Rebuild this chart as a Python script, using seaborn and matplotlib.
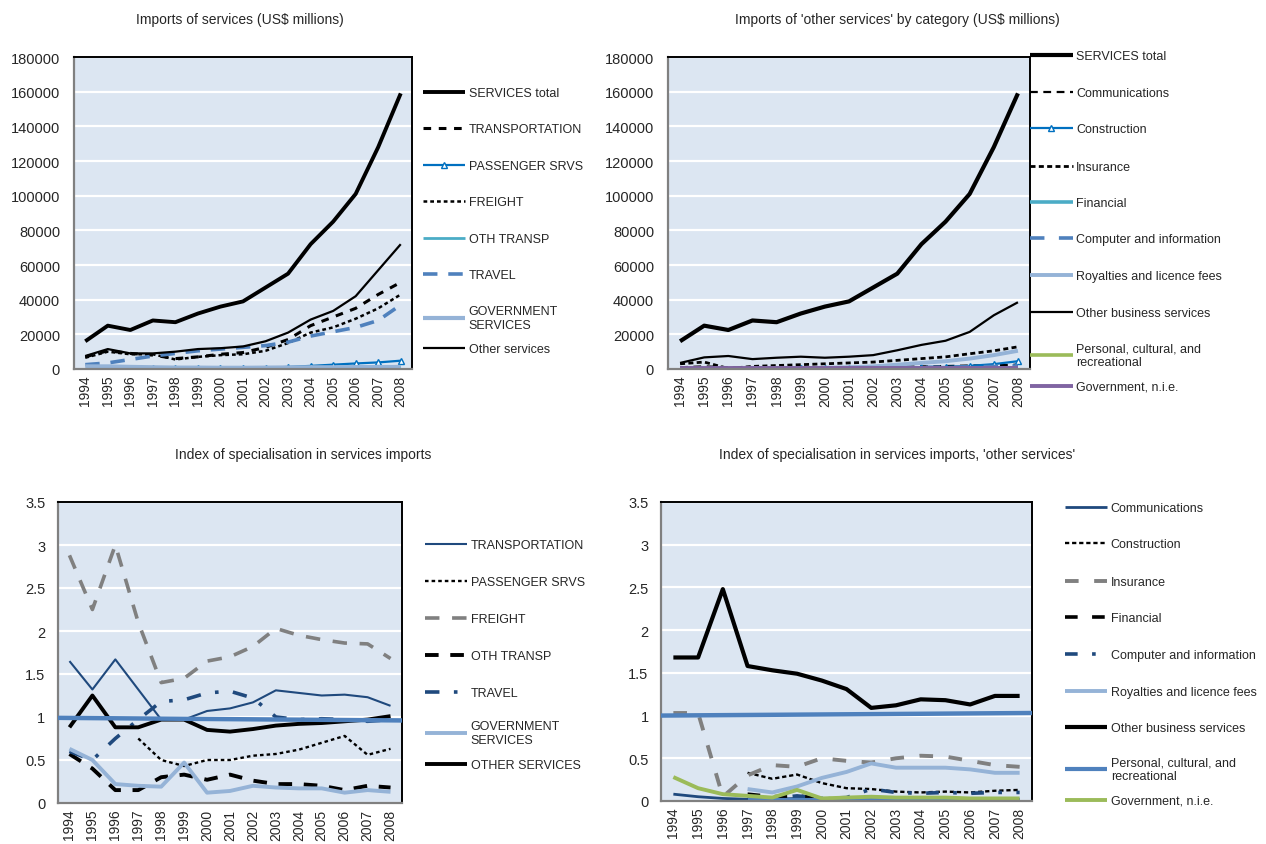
import numpy as np
import pandas as pd
import matplotlib
matplotlib.use("Agg")
import matplotlib.pyplot as plt
import matplotlib.transforms as mtransforms
import seaborn as sns

nan = np.nan
years = list(range(1994, 2009))

# ---------- Top-left: Imports of services (US$ millions) ----------
tl_services_total = [16000, 25000, 22500, 28000, 27000, 32000, 36000, 39000, 47000, 55000, 72000, 85000, 101000, 128000, 159000]
tl_transportation = [7000, 10500, 9000, 8000, 6000, 7000, 8500, 9500, 12500, 17000, 25000, 30000, 35000, 43000, 50000]
tl_passenger = [nan, nan, nan, 300, 300, 400, 500, 600, 700, 1200, 1800, 2500, 3200, 3800, 4800]
tl_freight = [6500, 10000, 8500, 8500, 5500, 7000, 8000, 8500, 10500, 15000, 21000, 24000, 29000, 35000, 43000]
tl_oth_transp = [nan, nan, nan, 600, 600, 600, 600, 600, 600, 700, 800, 900, 1000, 1100, 1200]
tl_travel = [2500, 3500, 5500, 7500, 9000, 10500, 11500, 12500, 13500, 15500, 19000, 21500, 24000, 28000, 37000]
tl_government = [1500, 1500, 1200, 1000, 800, 800, 700, 700, 800, 900, 1000, 1000, 1100, 1100, 1200]
tl_other = [7500, 11500, 9000, 9000, 10000, 11500, 12000, 13000, 16000, 21000, 28500, 33500, 42000, 57000, 72000]

# ---------- Top-right: Imports of 'other services' by category ----------
tr_services_total = tl_services_total
tr_communications = [1000, 1500, 1000, 800, 800, 900, 1000, 1000, 1100, 1300, 1500, 1700, 2000, 2200, 2500]
tr_construction = [nan, nan, nan, 200, 200, 300, 300, 400, 500, 700, 900, 1200, 1800, 2800, 4500]
tr_insurance = [3000, 4000, 300, 1500, 2000, 2500, 3000, 3500, 4000, 5000, 6000, 7000, 8800, 10500, 12800]
tr_financial = [nan, nan, nan, 300, 300, 300, 300, 300, 400, 400, 400, 500, 500, 600, 700]
tr_computer = [nan, nan, nan, 300, 400, 500, 600, 700, 800, 900, 1000, 1100, 1200, 1500, 1800]
tr_royalties = [nan, nan, nan, 300, 400, 500, 700, 1000, 1500, 2500, 3500, 4500, 6000, 8000, 10500]
tr_other_business = [3500, 6700, 7500, 5700, 6500, 7100, 6500, 7100, 8000, 10800, 13900, 16300, 21400, 31000, 38500]
tr_personal = [200, 200, 200, 200, 200, 200, 200, 200, 200, 200, 250, 250, 300, 300, 350]
tr_government = [300, 300, 300, 300, 300, 300, 300, 300, 300, 300, 300, 300, 300, 300, 300]

# ---------- Bottom-left: Index of specialisation in services imports ----------
bl_transportation = [1.65, 1.32, 1.67, 1.32, 0.97, 0.97, 1.07, 1.10, 1.17, 1.31, 1.28, 1.25, 1.26, 1.23, 1.13]
bl_passenger = [nan, nan, nan, 0.75, 0.50, 0.43, 0.50, 0.50, 0.55, 0.57, 0.62, 0.70, 0.78, 0.56, 0.63]
bl_freight = [2.88, 2.25, 3.00, 2.10, 1.40, 1.45, 1.65, 1.70, 1.82, 2.03, 1.95, 1.90, 1.86, 1.85, 1.68]
bl_oth_transp = [0.57, 0.40, 0.15, 0.15, 0.30, 0.33, 0.27, 0.33, 0.26, 0.22, 0.22, 0.20, 0.15, 0.20, 0.18]
bl_travel = [0.60, 0.50, 0.75, 0.97, 1.18, 1.20, 1.28, 1.30, 1.22, 1.00, 0.97, 0.98, 0.97, 0.95, 0.97]
bl_government = [0.63, 0.50, 0.22, 0.20, 0.19, 0.47, 0.12, 0.14, 0.20, 0.18, 0.17, 0.17, 0.12, 0.15, 0.13]
bl_other = [0.88, 1.25, 0.88, 0.88, 0.97, 0.97, 0.85, 0.83, 0.86, 0.90, 0.92, 0.93, 0.95, 0.97, 1.01]
bl_reference = [0.99, 0.96]

# ---------- Bottom-right: Index of specialisation, 'other services' ----------
br_communications = [0.08, 0.05, 0.03, 0.02, 0.02, 0.03, 0.02, 0.02, 0.02, 0.02, 0.02, 0.02, 0.02, 0.02, 0.02]
br_construction = [nan, nan, nan, 0.33, 0.26, 0.31, 0.21, 0.15, 0.14, 0.11, 0.10, 0.11, 0.10, 0.12, 0.13]
br_insurance = [1.03, 1.03, 0.05, 0.30, 0.42, 0.40, 0.50, 0.47, 0.45, 0.50, 0.53, 0.52, 0.47, 0.42, 0.40]
br_financial = [nan, nan, nan, 0.08, 0.05, 0.06, 0.03, 0.02, 0.01, 0.01, 0.01, 0.01, 0.01, 0.01, 0.01]
br_computer = [nan, nan, nan, 0.03, 0.03, 0.06, 0.03, 0.04, 0.14, 0.10, 0.09, 0.10, 0.09, 0.10, 0.10]
br_royalties = [nan, nan, nan, 0.14, 0.10, 0.17, 0.27, 0.34, 0.44, 0.39, 0.39, 0.39, 0.37, 0.33, 0.33]
br_other_business = [1.68, 1.68, 2.48, 1.58, 1.53, 1.49, 1.41, 1.31, 1.09, 1.12, 1.19, 1.18, 1.13, 1.23, 1.23]
br_personal = [nan, nan, nan, 0.01, 0.01, 0.01, 0.01, 0.01, 0.01, 0.01, 0.01, 0.01, 0.01, 0.01, 0.01]
br_government = [0.28, 0.15, 0.08, 0.06, 0.04, 0.13, 0.03, 0.04, 0.05, 0.04, 0.04, 0.04, 0.03, 0.03, 0.03]
br_reference = [1.00, 1.03]

titles = ["Imports of services (US$ millions)",
          "Imports of 'other services' by category (US$ millions)",
          "Index of specialisation in services imports",
          "Index of specialisation in services imports, 'other services'"]

sns.set_style("white")
plt.rcParams['font.family'] = ['Liberation Sans', 'DejaVu Sans']

BG = "#DCE6F2"
BLACK = "#000000"
GREY = "#808080"
DBLUE = "#1F497D"
MBLUE = "#4F81BD"
CBLUE = "#0070C0"
LBLUE = "#95B3D7"
TEAL = "#4BACC6"
GREEN = "#9BBB59"
PURPLE = "#8064A2"

fig = plt.figure(figsize=(12.66, 8.45), dpi=100)
W, H = 1266, 845

def make_ax(l, t, r, b):
    return fig.add_axes([l / W, 1 - b / H, (r - l) / W, (b - t) / H])

ax_tl = make_ax(74, 58, 412, 370)
ax_tr = make_ax(668, 58, 1030, 370)
ax_bl = make_ax(58, 503, 402, 804)
ax_br = make_ax(661, 503, 1032, 802)


def draw(ax, values, label, color, lw, ls="-", **kw):
    df = pd.DataFrame({"year": years, "value": values})
    sns.lineplot(data=df, x="year", y="value", ax=ax, color=color, linewidth=lw,
                 linestyle=ls, label=label, solid_capstyle="butt",
                 dash_capstyle="butt", **kw)


def style_ax(ax, ymax, ystep, fmt, ypad):
    ax.set_facecolor(BG)
    ax.set_xlim(1993.5, 2008.5)
    ax.set_ylim(0, ymax)
    ticks = np.arange(0, ymax + ystep / 2, ystep)
    ax.set_yticks(ticks)
    ax.set_yticklabels([fmt(t) for t in ticks], fontsize=10.5, color="#262626")
    ax.set_xticks(years)
    ax.set_xticklabels([str(y) for y in years], rotation=90, fontsize=10, color="#262626")
    ax.yaxis.grid(True, color="white", linewidth=1.6)
    ax.xaxis.grid(False)
    ax.set_axisbelow(True)
    ax.set_xlabel("")
    ax.set_ylabel("")
    for s in ["left", "bottom"]:
        ax.spines[s].set_color(GREY)
        ax.spines[s].set_linewidth(1.6)
    for s in ["top", "right"]:
        ax.spines[s].set_color(BLACK)
        ax.spines[s].set_linewidth(1.4)
    ax.tick_params(axis="x", direction="in", length=4, color=GREY, pad=4)
    ax.tick_params(axis="y", length=0, pad=ypad)


def legend_rows(ax, x, centers, hl=3.35):
    """One legend row per series, each row placed at its own height."""
    handles, labels = ax.get_legend_handles_labels()
    if ax.get_legend() is not None:
        ax.get_legend().remove()
    for h, lab, yc in zip(handles, labels, centers):
        fig.legend([h], [lab], loc="center left", bbox_to_anchor=(x / W, 1 - (yc + 2) / H),
                   bbox_transform=fig.transFigure, frameon=False, fontsize=9,
                   borderaxespad=0, borderpad=0, handlelength=hl, handletextpad=0.3,
                   numpoints=1)


# ---- Top-left ----
draw(ax_tl, tl_services_total, "SERVICES total", BLACK, 2.8)
draw(ax_tl, tl_transportation, "TRANSPORTATION", BLACK, 2.2, (0, (2.5, 2.5)))
draw(ax_tl, tl_passenger, "PASSENGER SRVS", CBLUE, 1.6, "-", marker="^", markersize=4,
     markerfacecolor="white", markeredgecolor=CBLUE, markeredgewidth=1)
draw(ax_tl, tl_freight, "FREIGHT", BLACK, 1.8, (0, (1.5, 1.2)))
draw(ax_tl, tl_oth_transp, "OTH TRANSP", TEAL, 2.0)
draw(ax_tl, tl_travel, "TRAVEL", MBLUE, 2.6, (0, (4, 3)))
draw(ax_tl, tl_government, "GOVERNMENT\nSERVICES", LBLUE, 3.0)
draw(ax_tl, tl_other, "Other services", BLACK, 1.6)
style_ax(ax_tl, 180000, 20000, lambda t: f"{int(t)}", 10)
legend_rows(ax_tl, 423, [92, 128, 165, 201, 238, 274, 317, 348])

# ---- Top-right ----
draw(ax_tr, tr_services_total, "SERVICES total", BLACK, 3.0)
draw(ax_tr, tr_communications, "Communications", BLACK, 1.6, (0, (3.5, 2.5)))
draw(ax_tr, tr_construction, "Construction", CBLUE, 1.6, "-", marker="^", markersize=4,
     markerfacecolor="white", markeredgecolor=CBLUE, markeredgewidth=1)
draw(ax_tr, tr_insurance, "Insurance", BLACK, 2.0, (0, (1.8, 1.2)))
draw(ax_tr, tr_financial, "Financial", TEAL, 2.6)
draw(ax_tr, tr_computer, "Computer and information", MBLUE, 2.6, (0, (4, 4)))
draw(ax_tr, tr_royalties, "Royalties and licence fees", LBLUE, 2.8)
draw(ax_tr, tr_other_business, "Other business services", BLACK, 1.6)
draw(ax_tr, tr_personal, "Personal, cultural, and\nrecreational", GREEN, 2.6)
draw(ax_tr, tr_government, "Government, n.i.e.", PURPLE, 2.8)
style_ax(ax_tr, 180000, 20000, lambda t: f"{int(t)}", 10)
legend_rows(ax_tr, 1030, [55, 92, 128, 166, 202, 238, 275, 312, 354, 386], hl=3.4)

# ---- Bottom-left ----
draw(ax_bl, bl_transportation, "TRANSPORTATION", DBLUE, 1.5)
draw(ax_bl, bl_passenger, "PASSENGER SRVS", BLACK, 1.7, (0, (1.5, 1.3)))
draw(ax_bl, bl_freight, "FREIGHT", GREY, 2.6, (0, (4, 3.5)))
draw(ax_bl, bl_oth_transp, "OTH TRANSP", BLACK, 2.8, (0, (3.5, 3)))
draw(ax_bl, bl_travel, "TRAVEL", DBLUE, 2.6, (0, (4, 4, 1, 4)))
draw(ax_bl, bl_government, "GOVERNMENT\nSERVICES", LBLUE, 2.8)
draw(ax_bl, bl_other, "OTHER SERVICES", BLACK, 2.8)
trans_bl = mtransforms.blended_transform_factory(ax_bl.transAxes, ax_bl.transData)
ax_bl.plot([0, 1], bl_reference, transform=trans_bl, color=MBLUE, linewidth=3.2,
           solid_capstyle="butt", zorder=5)
style_ax(ax_bl, 3.5, 0.5, lambda t: f"{t:g}", 9)
legend_rows(ax_bl, 425, [544, 581, 618, 655, 692, 732, 764])

# ---- Bottom-right ----
draw(ax_br, br_communications, "Communications", DBLUE, 2.0)
draw(ax_br, br_construction, "Construction", BLACK, 1.7, (0, (1.8, 1.2)))
draw(ax_br, br_insurance, "Insurance", GREY, 2.8, (0, (3.5, 4)))
draw(ax_br, br_financial, "Financial", BLACK, 2.6, (0, (3.5, 4)))
draw(ax_br, br_computer, "Computer and information", DBLUE, 2.6, (0, (3.5, 4, 1, 4)))
draw(ax_br, br_royalties, "Royalties and licence fees", LBLUE, 2.8)
draw(ax_br, br_other_business, "Other business services", BLACK, 3.0)
draw(ax_br, br_personal, "Personal, cultural, and\nrecreational", MBLUE, 3.0)
draw(ax_br, br_government, "Government, n.i.e.", GREEN, 2.8)
trans_br = mtransforms.blended_transform_factory(ax_br.transAxes, ax_br.transData)
ax_br.plot([0, 1], br_reference, transform=trans_br, color=MBLUE, linewidth=3.2,
           solid_capstyle="butt", zorder=5)
style_ax(ax_br, 3.5, 0.5, lambda t: f"{t:g}", 9)
legend_rows(ax_br, 1065, [507, 543, 581, 617, 654, 691, 727, 768, 800])

# ---- Titles ----
fig.text(240 / W, 1 - 20 / H, titles[0], ha="center", va="center", fontsize=10, color="#262626")
fig.text(897 / W, 1 - 20 / H, titles[1], ha="center", va="center", fontsize=10, color="#262626")
fig.text(303 / W, 1 - 455 / H, titles[2], ha="center", va="center", fontsize=10, color="#262626")
fig.text(897 / W, 1 - 455 / H, titles[3], ha="center", va="center", fontsize=10, color="#262626")

fig.savefig("out.png", dpi=100, facecolor="white")
